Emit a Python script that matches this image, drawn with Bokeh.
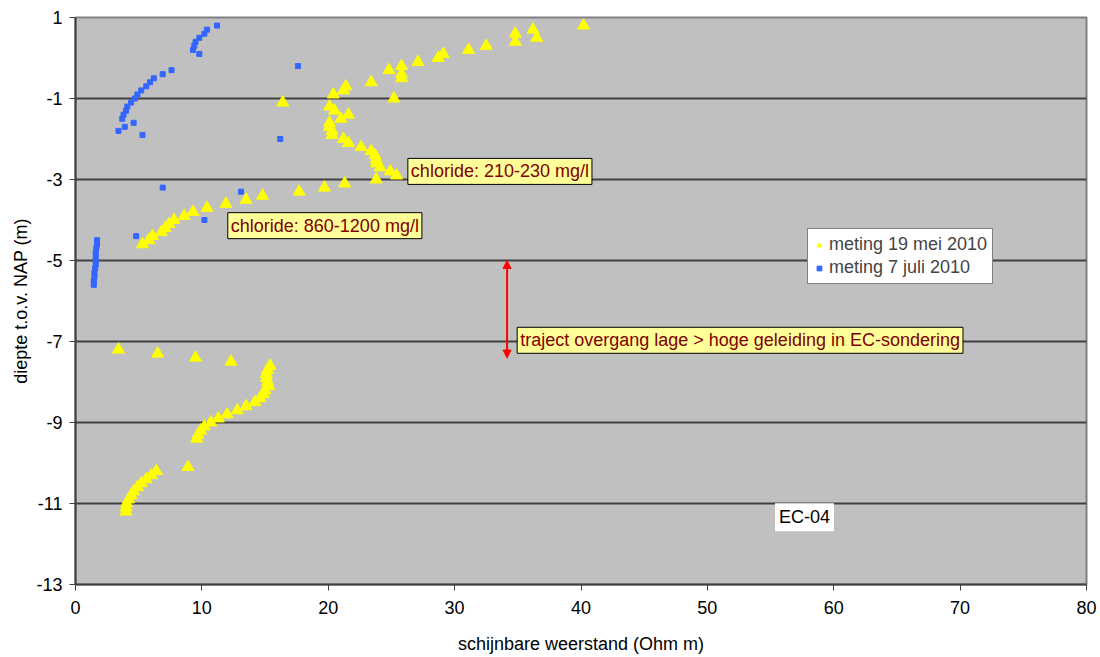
from bokeh.plotting import figure
from bokeh.models import (Range1d, FixedTicker, Label, Arrow, NormalHead, Legend, LegendItem)
from bokeh.embed import file_html
from bokeh.resources import INLINE

# ---- data ----
mei_x = [40.2, 36.2, 34.8, 36.5, 34.8, 32.5, 31.1, 29.1, 28.7, 27.1, 25.8, 24.8, 25.8, 25.8,
         23.4, 21.4, 21.2, 20.4, 25.2, 16.4, 20.1, 20.5, 21.6, 21.0, 20.1, 20.1, 20.3, 20.3,
         21.2, 21.6, 22.6, 23.4, 23.7, 23.8, 23.8, 24.1, 24.9, 25.4, 23.8, 21.3, 19.7, 17.7,
         14.8, 13.5, 11.9, 10.4, 9.3, 8.6, 7.8, 7.4, 7.1, 6.8, 6.1, 5.8, 5.3,
         3.4, 6.5, 9.5, 12.3, 15.4, 15.2, 15.1, 15.1, 15.2, 15.3, 15.0, 14.9, 14.6, 14.2,
         13.5, 12.8, 12.0, 11.3, 10.7, 10.2, 9.9, 9.7, 9.6,
         8.9, 6.4, 6.0, 5.6, 5.2, 4.9, 4.6, 4.4, 4.2, 4.05, 4.0, 4.0]
mei_y = [0.8, 0.7, 0.6, 0.5, 0.4, 0.3, 0.2, 0.1, 0.0, -0.1, -0.2, -0.3, -0.4, -0.5,
         -0.6, -0.7, -0.8, -0.9, -1.0, -1.1, -1.2, -1.3, -1.4, -1.5, -1.6, -1.7, -1.8, -1.9,
         -2.0, -2.1, -2.2, -2.3, -2.4, -2.5, -2.6, -2.7, -2.8, -2.9, -3.0, -3.1, -3.2, -3.3,
         -3.4, -3.5, -3.6, -3.7, -3.8, -3.9, -4.0, -4.1, -4.2, -4.3, -4.4, -4.5, -4.6,
         -7.2, -7.3, -7.4, -7.5, -7.6, -7.7, -7.8, -7.9, -8.0, -8.1, -8.2, -8.3, -8.4, -8.5,
         -8.6, -8.7, -8.8, -8.9, -9.0, -9.1, -9.2, -9.3, -9.4,
         -10.1, -10.2, -10.3, -10.4, -10.5, -10.6, -10.7, -10.8, -10.9, -11.0, -11.1, -11.2]

juli_x = [11.2, 10.4, 10.2, 9.8, 9.5, 9.4, 9.3, 9.8, 17.6, 7.6, 6.9, 6.2, 5.9, 5.6, 5.2,
          4.9, 4.7, 4.4, 4.1, 4.0, 3.8, 3.7, 4.6, 3.9, 3.4, 5.3, 16.2, 6.9, 13.1, 10.2, 4.8,
          1.7, 1.7, 1.65, 1.6, 1.6, 1.6, 1.6, 1.55, 1.5, 1.5, 1.45, 1.45]
juli_y = [0.8, 0.7, 0.6, 0.5, 0.4, 0.3, 0.2, 0.1, -0.2, -0.3, -0.4, -0.5, -0.6, -0.7, -0.8,
          -0.9, -1.0, -1.1, -1.2, -1.3, -1.4, -1.5, -1.6, -1.7, -1.8, -1.9, -2.0, -3.2, -3.3,
          -4.0, -4.4,
          -4.5, -4.6, -4.7, -4.8, -4.9, -5.0, -5.1, -5.2, -5.3, -5.4, -5.5, -5.6]

x_ticks = [0, 10, 20, 30, 40, 50, 60, 70, 80]
y_ticks = [1, -1, -3, -5, -7, -9, -11, -13]
series_names = ["meting 19 mei 2010", "meting 7 juli 2010"]

FONT = "Liberation Sans"

p = figure(frame_width=1011, frame_height=567,
           x_range=Range1d(0, 80), y_range=Range1d(-13, 1),
           output_backend="svg", toolbar_location=None,
           min_border_left=75, min_border_right=14, min_border_top=17, min_border_bottom=72)

p.background_fill_color = "#C0C0C0"
p.border_fill_color = "white"
p.outline_line_color = "#808080"
p.outline_line_width = 2

p.xgrid.visible = False
p.ygrid.ticker = FixedTicker(ticks=[-1, -3, -5, -7, -9, -11])
p.ygrid.grid_line_color = "#404040"
p.ygrid.grid_line_width = 2

p.xaxis.ticker = FixedTicker(ticks=x_ticks)
p.yaxis.ticker = FixedTicker(ticks=y_ticks)
p.yaxis.major_label_overrides = {t: str(t) for t in y_ticks}
for ax in (p.xaxis[0], p.yaxis[0]):
    ax.axis_line_color = "#404040"
    ax.axis_line_width = 2
    ax.major_tick_line_color = "#404040"
    ax.major_tick_out = 6
    ax.major_tick_in = 0
    ax.minor_tick_line_color = None
    ax.major_label_text_font = FONT
    ax.major_label_text_font_size = "18px"
    ax.major_label_text_color = "black"
    ax.axis_label_text_font = FONT
    ax.axis_label_text_font_size = "18px"
    ax.axis_label_text_font_style = "normal"
    ax.axis_label_text_color = "black"

p.xaxis.axis_label = "schijnbare weerstand (Ohm m)"
p.yaxis.axis_label = "diepte t.o.v. NAP (m)"
p.xaxis.major_label_standoff = 10
p.xaxis.axis_label_standoff = 17
p.yaxis.major_label_standoff = 7
p.yaxis.axis_label_standoff = 2

r_mei = p.scatter(mei_x, mei_y, marker="triangle", size=12,
                  fill_color="#FFFF00", line_color="#FFFF00")
r_juli = p.scatter(juli_x, juli_y, marker="square", size=5,
                   fill_color="#3366FF", line_color="#3366FF")

legend = Legend(items=[LegendItem(label=series_names[0], renderers=[r_mei]),
                       LegendItem(label=series_names[1], renderers=[r_juli])],
                location=(732, 300))
legend.label_text_font = FONT
legend.label_text_font_size = "18px"
legend.label_height = 20
legend.glyph_height = 20
legend.glyph_width = 12
legend.label_standoff = 4
legend.padding = 5
legend.spacing = 2
legend.margin = 0
legend.border_line_color = "black"
legend.border_line_width = 1
legend.background_fill_color = "white"
legend.background_fill_alpha = 1
p.add_layout(legend, "center")

note_style = dict(text_font=FONT, text_font_size="18px", text_color="#800000",
                  background_fill_color="#FFFF99", background_fill_alpha=1,
                  border_line_color="black", border_line_width=1,
                  text_align="left", text_baseline="middle", padding=3)
p.add_layout(Label(x=26.3, y=-2.80, text="chloride: 210-230 mg/l", **note_style))
p.add_layout(Label(x=12.05, y=-4.14, text="chloride: 860-1200 mg/l", **note_style))
p.add_layout(Label(x=34.95, y=-6.97,
                   text="traject overgang lage > hoge geleiding in EC-sondering", **note_style))
p.add_layout(Label(x=55.35, y=-11.34, text="EC-04", text_font=FONT, text_font_size="18px",
                   text_color="black", background_fill_color="white", background_fill_alpha=1,
                   text_align="left", text_baseline="middle", padding=4))

p.add_layout(Arrow(x_start=34.15, y_start=-5.0, x_end=34.15, y_end=-7.41,
                   line_color="red", line_width=2,
                   start=NormalHead(size=8, fill_color="red", line_color="red"),
                   end=NormalHead(size=8, fill_color="red", line_color="red")))

open("out.html", "w").write(file_html(p, INLINE))
